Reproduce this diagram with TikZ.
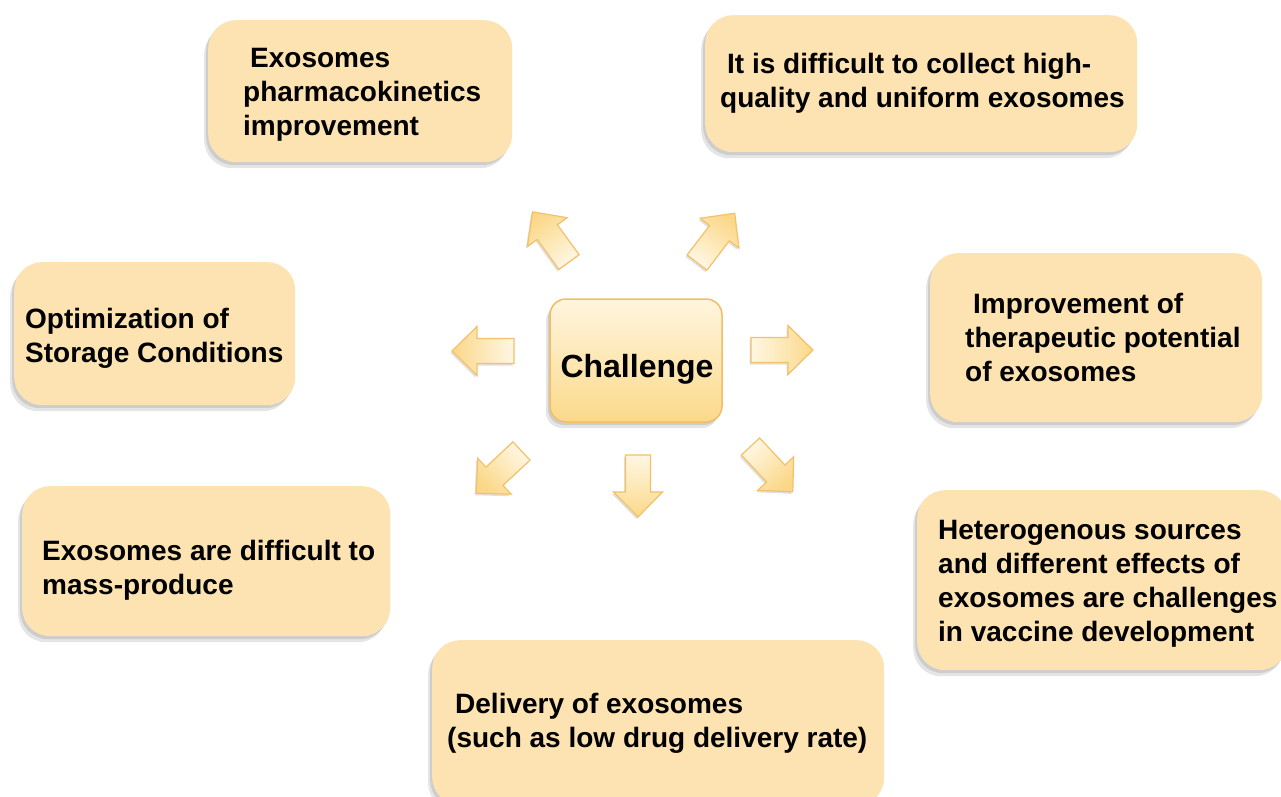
\documentclass[tikz,border=0pt]{standalone}
\usepackage{fontspec}
\setmainfont{Liberation Sans}
\usetikzlibrary{shadows}
\definecolor{boxfill}{HTML}{FCE3B1}
\definecolor{chtop}{HTML}{FFF5DE}
\definecolor{chbot}{HTML}{FBD98A}
\definecolor{chline}{HTML}{F2BE65}
\definecolor{arlight}{HTML}{FFF7E4}
\definecolor{ardark}{HTML}{FBD889}
\definecolor{arline}{HTML}{F3C168}
\begin{document}
\begin{tikzpicture}[x=1pt,y=-1pt,
  softshadow/.style={drop shadow={shadow xshift=-2pt,shadow yshift=-3pt,opacity=0.10,fill=black},
                     drop shadow={shadow xshift=-4pt,shadow yshift=-6pt,opacity=0.10,fill=black}},
  box/.style={rectangle, rounded corners=28pt, fill=boxfill, inner sep=0pt, anchor=north west, softshadow},
  txt/.style={anchor=north west, inner sep=0pt, align=left, font=\fontsize{28}{34}\selectfont\bfseries},
  arrowsty/.style={draw=arline, line width=1.2pt, line join=miter, top color=ardark, bottom color=arlight,
                   drop shadow={shadow xshift=-1.5pt,shadow yshift=-2pt,opacity=0.12,fill=black}},
  pics/barrow/.style={code={
    \path[arrowsty, shading angle=#1] (0,-12.5) -- (37,-12.5) -- (37,-24.5) -- (62,0)
      -- (37,24.5) -- (37,12.5) -- (0,12.5) -- cycle;}}
]
\useasboundingbox[fill=white] (0,0) rectangle (1281,796);

% boxes
\node[box, minimum width=304pt, minimum height=142pt] (b1) at (208,20) {};
\node[box, minimum width=432pt, minimum height=137pt] (b2) at (705,15) {};
\node[box, minimum width=281pt, minimum height=143pt] (b3) at (14,262) {};
\node[box, minimum width=332pt, minimum height=169pt] (b4) at (930,253) {};
\node[box, minimum width=368pt, minimum height=150pt] (b5) at (22,486) {};
\node[box, minimum width=370pt, minimum height=180pt] (b6) at (917,490) {};
\node[box, minimum width=452pt, minimum height=165pt] (b7) at (432,640) {};

% texts
\node[txt] (t1) at (243,48) {\hspace*{7pt}Exosomes\\pharmacokinetics\\improvement};
\node[txt] (t2) at (720,53) {\hspace*{7pt}It is difficult to collect high-\\quality and uniform exosomes};
\node[txt] (t3) at (25,308) {Optimization of\\Storage Conditions};
\node[txt] (t4) at (965,293) {\hspace*{8pt}Improvement of\\therapeutic potential\\of exosomes};
\node[txt] (t5) at (42,540) {Exosomes are difficult to\\mass-produce};
\node[txt] (t6) at (938,520) {Heterogenous sources\\and different effects of\\exosomes are challenges\\in vaccine development};
\node[txt] (t7) at (447,693) {\hspace*{8pt}Delivery of exosomes\\(such as low drug delivery rate)};

% center
\node[rectangle, rounded corners=16pt, minimum width=172pt, minimum height=123pt,
      draw=chline, line width=1.5pt, top color=chtop, bottom color=chbot, softshadow] (chbox) at (636,360.5) {};
\node[anchor=base, inner sep=0pt, font=\fontsize{32}{38}\selectfont\bfseries] (ch) at (637,377) {Challenge};

% arrows (tail position, rotation)
\pic[rotate=126] (a1) at (569,262) {barrow=36};
\pic[rotate=52.5] (a2) at (697,262.5) {barrow=-37.5};
\pic[rotate=180] (a3) at (514,351) {barrow=90};
\pic[rotate=0] (a4) at (751,350) {barrow=-90};
\pic[rotate=223] (a5) at (521.5,451) {barrow=133};
\pic[rotate=270] (a6) at (638,455) {barrow=180};
\pic[rotate=-47] (a7) at (750.5,446.5) {barrow=-137};
\end{tikzpicture}
\end{document}
